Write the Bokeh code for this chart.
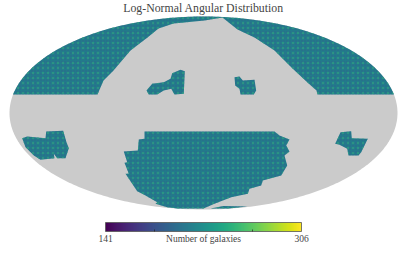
from bokeh.plotting import figure
from bokeh.embed import file_html
from bokeh.resources import INLINE
from bokeh.models import LinearColorMapper
from bokeh.palettes import Viridis256
from bokeh.core.properties import value
import numpy as np

# Map units: Mollweide sky outline, half axes 194 x 96.5
MAP_A, MAP_B = 194.0, 96.5
BAND_EDGE = 18.5

WEDGE_X = [-106, -100, -90, -73, -56, -45, -30, 1, 19, 34, 51, 71, 83, 89, 104, 113, 114]
WEDGE_Y = [18.5, 32.5, 42.5, 62.5, 75.5, 84.5, 89.5, 92.5, 95.5, 83.5, 75.5, 62.5, 50.5, 44.5, 30.5, 22.5, 18.5]

ISLAND_A_X = [-57, -51.3, -39.7, -33, -31.3, -23, -18.7, -19.7, -29, -32.3, -39.7, -46.3, -54.7]
ISLAND_A_Y = [22.5, 29.2, 30.8, 34.2, 39.8, 43.2, 41.8, 19.2, 18.5, 24.2, 22.5, 18.5, 18.5]
ISLAND_B_X = [31, 36, 39.3, 51, 52.7, 50.3, 37, 36, 31.7]
ISLAND_B_Y = [35.8, 36.5, 32.5, 33.2, 22.5, 18.5, 18.5, 24.2, 27.5]
ISLAND_C_X = [-181.3, -176.3, -158, -157.3, -140.3, -137, -134.7, -138, -146.3, -149.7, -149, -163, -169.7, -178]
ISLAND_C_Y = [-25.2, -23.5, -25.2, -18.5, -17.8, -29.2, -35.2, -45.2, -45.2, -40.8, -45.2, -46.8, -42.5, -34.2]
ISLAND_D_X = [131.7, 137, 147.7, 148.3, 164.3, 157.7, 155, 145, 143.7, 136]
ISLAND_D_Y = [-30.8, -19.2, -18.2, -25.2, -25.8, -39.2, -42.5, -42.5, -35.8, -31.8]
SOUTH_X = [-59, 71, 76, 86, 82.7, 86, 81, 83.7, 77.7, 59.3, 57.7, 46, 44.3, 27.7, 11, 0, -26.3, -36.3, -48, -46.3, -58, -66.3, -78, -74.7, -79, -76.3, -79.7, -65.7, -64.7, -59]
SOUTH_Y = [-18.5, -18.5, -22.5, -26.5, -32.5, -38.5, -42.5, -52.5, -62.5, -67.5, -72.5, -75.8, -80.8, -84.2, -90.8, -95.5, -95.5, -94.2, -90.8, -89.2, -82.5, -78.2, -60.8, -60.8, -49.8, -49.2, -38.5, -37.5, -26.5, -25.8]
STRIP_X = [7, 20, 44, 25]
STRIP_Y = [-95.5, -93, -93.5, -95.5]

CBAR_MIN, CBAR_MAX = 141, 306
CBAR_TICKS = [182.25, 264.75]
TITLE = "Log-Normal Angular Distribution"
CBAR_LABEL = "Number of galaxies"

GRAY = "#cbcbcb"
TEAL = "#227a8b"
SERIF = value("Liberation Serif")

p = figure(width=399, height=245, x_range=(-203, 196), y_range=(-132.5, 112.5),
           toolbar_location=None, output_backend="svg", min_border=0,
           margin=(0, 0, 0, 0), outline_line_color=None)
p.axis.visible = False
p.grid.visible = False

# grey sky
t = np.linspace(0, 2 * np.pi, 361)
p.patch(MAP_A * np.cos(t), MAP_B * np.sin(t), fill_color=GRAY, line_color=None)

# northern cap: the map outline above the band edge, closed along the wedge
t0 = np.arcsin(BAND_EDGE / MAP_B)
t = np.linspace(t0, np.pi - t0, 181)
cap_x = np.concatenate([MAP_A * np.cos(t), WEDGE_X])
cap_y = np.concatenate([MAP_B * np.sin(t), WEDGE_Y])

regions = [(cap_x, cap_y), (ISLAND_A_X, ISLAND_A_Y), (ISLAND_B_X, ISLAND_B_Y), (ISLAND_C_X, ISLAND_C_Y),
           (ISLAND_D_X, ISLAND_D_Y), (SOUTH_X, SOUTH_Y), (STRIP_X, STRIP_Y)]
for xs, ys in regions:
    p.patch(xs, ys, fill_color=TEAL, line_color=None,
            hatch_pattern="dot", hatch_color="#35568c", hatch_scale=3, hatch_weight=1, hatch_alpha=0.55)
    p.patch(xs, ys, fill_color=None, line_color=None,
            hatch_pattern="dot", hatch_color="#2fa67f", hatch_scale=5, hatch_weight=1, hatch_alpha=0.6)

# colour bar
CB_L, CB_R, CB_T, CB_B = -98.0, 98.0, -109.5, -118.5
def cb_x(v):
    return CB_L + (np.asarray(v, dtype=float) - CBAR_MIN) / (CBAR_MAX - CBAR_MIN) * (CB_R - CB_L)
mapper = LinearColorMapper(palette=Viridis256, low=CBAR_MIN, high=CBAR_MAX)
p.image(image=[np.linspace(CBAR_MIN, CBAR_MAX, 256)[None, :]], x=CB_L, y=CB_B,
        dw=CB_R - CB_L, dh=CB_T - CB_B, color_mapper=mapper)
p.quad(left=[CB_L], right=[CB_R], top=[CB_T], bottom=[CB_B], fill_color=None,
       line_color="#555555", line_width=0.8)
p.segment(x0=cb_x(CBAR_TICKS), x1=cb_x(CBAR_TICKS), y0=CB_B, y1=CB_B + 2, line_color="#222222", line_width=0.7)

p.text(x=[0], y=[105.5], text=[TITLE], text_align="center", text_baseline="middle",
       text_font=SERIF, text_font_size="11.8px", text_color="#444444")
p.text(x=[cb_x(CBAR_MIN), 0, cb_x(CBAR_MAX)], y=[-125.5] * 3,
       text=[str(CBAR_MIN), CBAR_LABEL, str(CBAR_MAX)], text_align="center", text_baseline="middle",
       text_font=SERIF, text_font_size="9.5px", text_color="#444444")

open("out.html", "w").write(file_html(p, INLINE))
